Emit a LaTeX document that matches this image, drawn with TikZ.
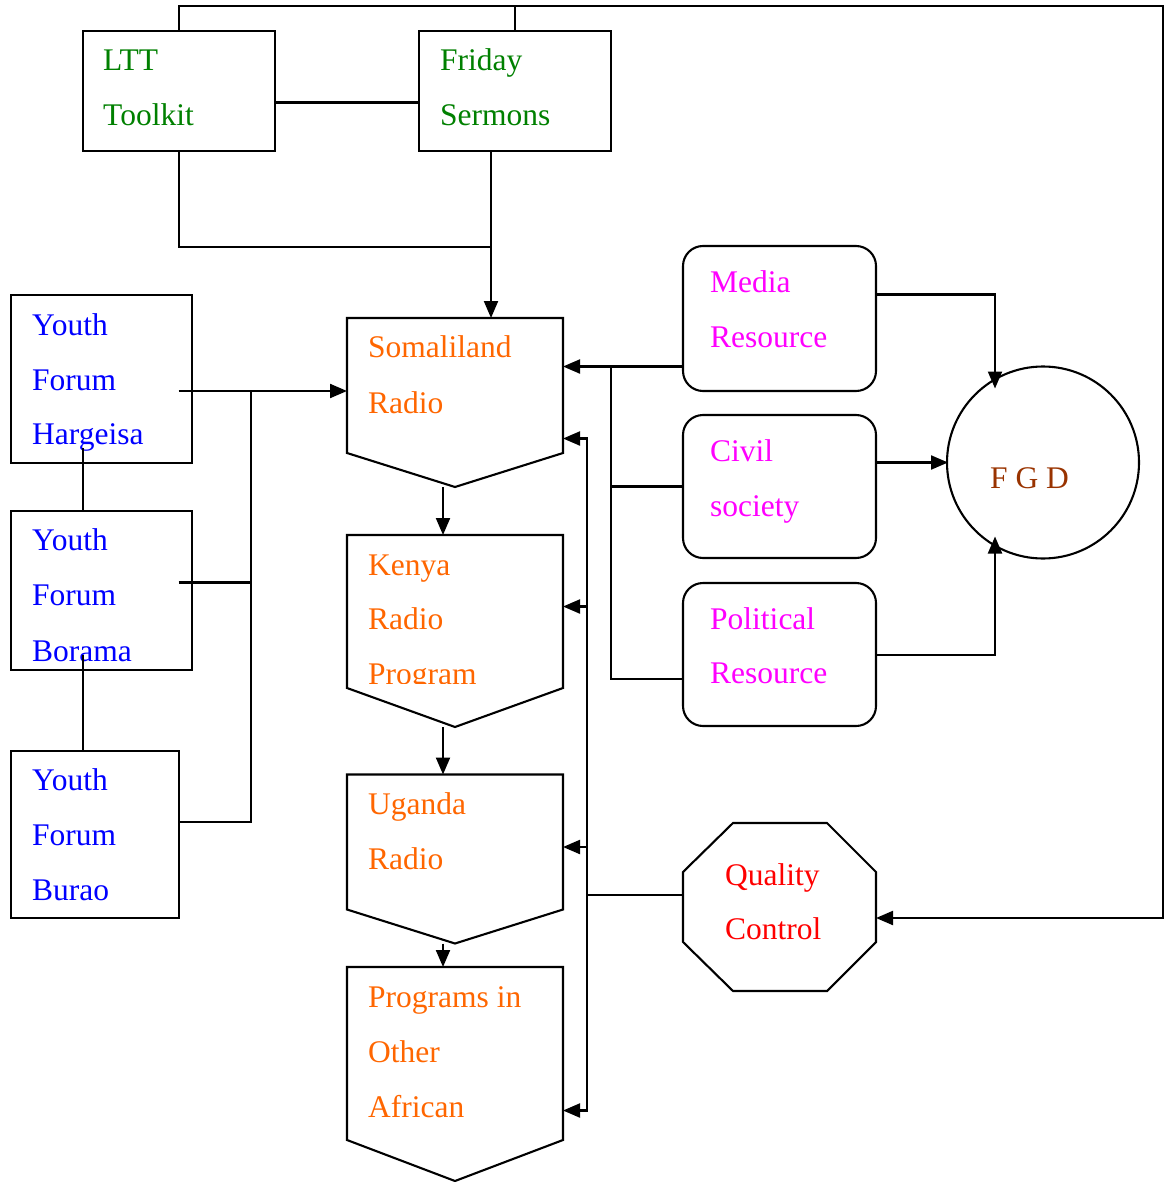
\documentclass[tikz,border=0pt]{standalone}
\usepackage{fontspec}
\setmainfont{Liberation Serif}
\usetikzlibrary{arrows.meta,calc}
\definecolor{cgreen}{RGB}{0,128,0}
\definecolor{cblue}{RGB}{0,0,255}
\definecolor{corange}{RGB}{255,102,0}
\definecolor{cmag}{RGB}{255,0,255}
\definecolor{cred}{RGB}{255,0,0}
\definecolor{cbrown}{RGB}{153,51,0}
\tikzset{
 ln/.style={line width=2.1pt},
 arr/.style={ln, -{Triangle[length=17pt,width=14pt]}},
 shp/.style={draw, ln, inner sep=0pt, outer sep=0pt},
 ghost/.style={inner sep=0pt, outer sep=0pt},
 txt/.style={anchor=base west, inner sep=0pt, font=\fontsize{31.5}{38}\selectfont},
 tg/.style={txt, text=cgreen},
 tb/.style={txt, text=cblue},
 to/.style={txt, text=corange},
 tm/.style={txt, text=cmag},
 tr/.style={txt, text=cred},
 tn/.style={txt, text=cbrown},
}
\begin{document}
\begin{tikzpicture}[x=1pt,y=-1pt]
\useasboundingbox (0,0) rectangle (1171,1182);
% shapes
\node[shp, minimum width=192, minimum height=120] (ltt) at (179,91) {};
\node[shp, minimum width=192, minimum height=120] (fri) at (515,91) {};
\node[shp, minimum width=181, minimum height=168] (yh) at (101.5,379) {};
\node[shp, minimum width=181, minimum height=159] (yb) at (101.5,590.5) {};
\node[shp, minimum width=168, minimum height=167] (yu) at (95,834.5) {};
\node[ghost, minimum width=216, minimum height=135] (som) at (455,385.5) {};
\node[ghost, minimum width=216, minimum height=153] (ken) at (455,611.5) {};
\node[ghost, minimum width=216, minimum height=135] (uga) at (455,842) {};
\node[ghost, minimum width=216, minimum height=173] (pro) at (455,1053.5) {};
\node[shp, rounded corners=20pt, minimum width=193, minimum height=145] (med) at (779.5,318.5) {};
\node[shp, rounded corners=20pt, minimum width=193, minimum height=143] (civ) at (779.5,486.5) {};
\node[shp, rounded corners=20pt, minimum width=193, minimum height=143] (pol) at (779.5,654.5) {};
\node[shp, circle, minimum size=192] (fgd) at (1043,462.5) {};
\node[ghost, minimum width=193, minimum height=168] (qc) at (779.5,907) {};
% pentagon outlines
\draw[ln] (som.north west) -- (som.north east) -- (som.south east) -- ($(som.south)+(0,34)$) -- (som.south west) -- cycle;
\draw[ln] (ken.north west) -- (ken.north east) -- (ken.south east) -- ($(ken.south)+(0,39)$) -- (ken.south west) -- cycle;
\draw[ln] (uga.north west) -- (uga.north east) -- (uga.south east) -- ($(uga.south)+(0,34)$) -- (uga.south west) -- cycle;
\draw[ln] (pro.north west) -- (pro.north east) -- (pro.south east) -- ($(pro.south)+(0,41)$) -- (pro.south west) -- cycle;
% octagon outline
\draw[ln] ($(qc.north west)+(50,0)$) -- ($(qc.north east)+(-49,0)$) -- ($(qc.north east)+(0,49)$) -- ($(qc.south east)+(0,-49)$) -- ($(qc.south east)+(-49,0)$) -- ($(qc.south west)+(50,0)$) -- ($(qc.south west)+(0,-49)$) -- ($(qc.north west)+(0,49)$) -- cycle;
% texts
\node[tg] (t1) at (103,71) {LTT};
\node[tg] (t2) at (103,126) {Toolkit};
\node[tg] (t3) at (440,71) {Friday};
\node[tg] (t4) at (440,126) {Sermons};
\node[tb] (t5) at (32,335) {Youth};
\node[tb] (t6) at (32,390) {Forum};
\node[tb] (t7) at (32,444) {Hargeisa};
\node[tb] (t8) at (32,550) {Youth};
\node[tb] (t9) at (32,605) {Forum};
\begin{scope}
\clip (0,0) rectangle (1171,662);
\node[tb] (t10) at (32,661) {Borama};
\end{scope}
\node[tb] (t11) at (32,790) {Youth};
\node[tb] (t12) at (32,845) {Forum};
\node[tb] (t13) at (32,900) {Burao};
\node[to] (t14) at (368,357) {Somaliland};
\node[to] (t15) at (368,413) {Radio};
\node[to] (t16) at (368,575) {Kenya};
\node[to] (t17) at (368,629) {Radio};
\begin{scope}
\clip (0,0) rectangle (1171,683);
\node[to] (t18) at (368,684) {Program};
\end{scope}
\node[to] (t19) at (368,814) {Uganda};
\node[to] (t20) at (368,869) {Radio};
\node[to] (t21) at (368,1007) {Programs in};
\node[to] (t22) at (368,1062) {Other};
\node[to] (t23) at (368,1117) {African};
\node[tm] (t24) at (710,292) {Media};
\node[tm] (t25) at (710,347) {Resource};
\node[tm] (t26) at (710,461) {Civil};
\node[tm] (t27) at (710,516) {society};
\node[tm] (t28) at (710,629) {Political};
\node[tm] (t29) at (710,683) {Resource};
\node[tr] (t30) at (725,885) {Quality};
\node[tr] (t31) at (725,939) {Control};
\node[tn] (t32) at (990,488) {F G D};
% connectors: top
\coordinate (topR) at (1163,6);
\coordinate (qcin) at (876,918);
\draw[arr] (ltt.north) |- (topR) |- (qcin);
\draw[ln] (fri.north) -- (fri.north |- topR);
\draw[ln] ($(ltt.east)+(0,11.5)$) -- ($(fri.west)+(0,11.5)$);
\draw[arr] ($(fri.south)+(-24,0)$) -- ($(som.north)+(36,0)$);
\draw[ln] (ltt.south) |- ($(fri.south)+(-24,96)$);
% youth forums
\coordinate (ybus) at (251,391);
\draw[arr] ($(yh.center)+(77,12)$) -- (som.west |- ybus);
\draw[ln] ($(yb.center)+(77,-8)$) -| (ybus);
\draw[ln] ($(yu.east)+(0,-12.5)$) -| (ybus);
\draw[ln] ($(yh.center)+(-18.5,69)$) -- ($(yb.north)+(-18.5,0)$);
\draw[ln] ($(yb.center)+(-18.5,64.5)$) -- ($(yu.north)+(-12,0)$);
% chain
\draw[arr] ($(som.south)+(-12,34)$) -- ($(ken.north)+(-12,0)$);
\draw[arr] ($(ken.south)+(-12,39)$) -- ($(uga.north)+(-12,0)$);
\draw[arr] ($(uga.south)+(-12,34)$) -- ($(pro.north)+(-12,0)$);
% right bus from quality control
\coordinate (rb) at (587,895);
\draw[ln] ($(qc.west)+(0,-12)$) -- (rb);
\draw[arr] (rb) |- ($(som.east)+(0,53)$);
\draw[arr] (rb) |- ($(pro.east)+(0,57)$);
\draw[arr] ($(ken.east)+(24,-5)$) -- ($(ken.east)+(0,-5)$);
\draw[arr] ($(uga.east)+(24,5)$) -- ($(uga.east)+(0,5)$);
% media bus
\draw[arr] ($(med.west)+(0,48)$) -- ($(som.east)+(0,-19)$);
\draw[ln] (civ.west) -- ++(-72,0);
\draw[ln] ($(pol.west)+(0,24.5)$) -| ($(som.east)+(48,-19)$);
% to FGD
\draw[arr] ($(med.east)+(0,-24)$) -| ($(fgd.center)+(-48,-74)$);
\draw[arr] ($(civ.east)+(0,-24)$) -- ($(fgd.west)+(1,0)$);
\draw[arr] ($(pol.east)+(0,0.5)$) -| ($(fgd.center)+(-48,74)$);
\end{tikzpicture}
\end{document}
